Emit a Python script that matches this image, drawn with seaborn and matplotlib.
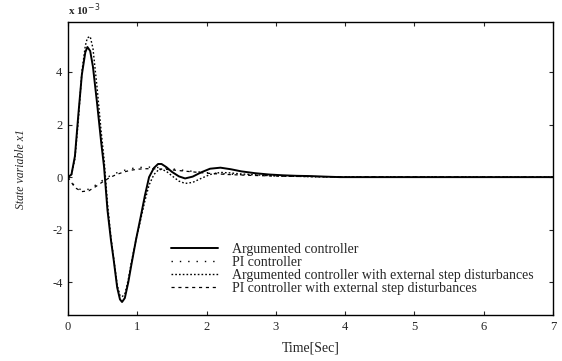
import numpy as np
import pandas as pd
import matplotlib
matplotlib.use("Agg")
import matplotlib.pyplot as plt
import seaborn as sns

# values (units of 1e-3)
t_arg = [0, 0.05, 0.1, 0.15, 0.2, 0.25, 0.28, 0.32, 0.36, 0.42, 0.48, 0.52, 0.57,
         0.62, 0.66, 0.71, 0.75, 0.78, 0.82, 0.87, 0.91, 0.98, 1.05, 1.11, 1.17,
         1.24, 1.3, 1.35, 1.42, 1.5, 1.6, 1.69, 1.8, 1.92, 2.05, 2.2, 2.35, 2.5,
         2.7, 2.9, 3.1, 3.3, 3.5, 3.7, 3.93, 7.0]
arg_ctrl = [0, 0.1, 0.8, 2.4, 3.9, 4.75, 4.95, 4.8, 4.2, 2.8, 1.3, 0.4, -1.26,
            -2.4, -3.16, -4.2, -4.65, -4.75, -4.6, -4.0, -3.4, -2.4, -1.5, -0.7, 0.0,
            0.35, 0.5, 0.5, 0.38, 0.2, 0.03, -0.05, 0.02, 0.18, 0.32, 0.36, 0.3, 0.22,
            0.15, 0.1, 0.07, 0.05, 0.04, 0.02, 0.0, 0.0]
arg_dist = [0, 0.1, 0.7, 2.2, 4.0, 5.0, 5.3, 5.35, 4.9, 3.4, 1.7, 0.7, -1.0,
            -2.3, -3.1, -4.1, -4.5, -4.55, -4.45, -3.9, -3.3, -2.4, -1.6, -0.9, -0.3,
            0.1, 0.26, 0.3, 0.22, 0.05, -0.15, -0.24, -0.2, -0.05, 0.1, 0.18, 0.16, 0.12,
            0.09, 0.06, 0.04, 0.03, 0.02, 0.01, 0.0, 0.0]

t_pi = [0, 0.1, 0.2, 0.3, 0.4, 0.5, 0.6, 0.7, 0.8, 0.9, 1.0, 1.1, 1.2, 1.4,
        1.6, 1.8, 2.0, 2.3, 2.6, 3.0, 3.5, 4.0, 7.0]
pi_ctrl = [0, -0.35, -0.5, -0.46, -0.3, -0.12, 0.04, 0.16, 0.25, 0.32, 0.36, 0.38,
           0.38, 0.35, 0.28, 0.22, 0.17, 0.12, 0.08, 0.05, 0.02, 0.01, 0.0]
pi_dist = [0, -0.4, -0.55, -0.52, -0.36, -0.18, -0.02, 0.1, 0.19, 0.26, 0.3, 0.32,
           0.32, 0.3, 0.25, 0.2, 0.15, 0.1, 0.07, 0.04, 0.02, 0.01, 0.0]

labels = ["Argumented controller",
          "PI controller",
          "Argumented controller with external step disturbances",
          "PI controller with external step disturbances"]

sns.set_style("ticks")
plt.rcParams["font.family"] = ["Liberation Serif", "DejaVu Serif"]
plt.rcParams["axes.unicode_minus"] = False

fig = plt.figure(figsize=(5.62, 3.61), dpi=100)
ax = fig.add_axes([0.121, 0.127, 0.863, 0.812])

sns.lineplot(x=t_arg, y=arg_ctrl, ax=ax, color="black", lw=1.4,
             linestyle="-", label=labels[0])
sns.lineplot(x=t_pi, y=pi_ctrl, ax=ax, color="black", lw=1.0,
             linestyle=(0, (1, 5)), label=labels[1])
sns.lineplot(x=t_arg, y=arg_dist, ax=ax, color="black", lw=1.0,
             linestyle=(0, (1.2, 1.5)), label=labels[2])
sns.lineplot(x=t_pi, y=pi_dist, ax=ax, color="black", lw=0.9,
             linestyle=(0, (2.5, 3)), label=labels[3])

ax.set_xlim(0, 7)
ax.set_ylim(-5.25, 5.9)
ax.set_xticks(range(0, 8))
ax.set_yticks([-4, -2, 0, 2, 4])
ax.tick_params(direction="in", top=True, right=True, labelsize=9, length=3,
               width=0.8, pad=4)
for s in ax.spines.values():
    s.set_linewidth(1.0)
    s.set_color("black")

ax.set_xlabel("Time[Sec]", fontsize=10, labelpad=6)
ax.set_ylabel("State variable x1", fontsize=8.5, style="italic", labelpad=18)
ax.annotate(r"x 10$^{-3}$", xy=(0, 1), xycoords="axes fraction",
            xytext=(0, 9), textcoords="offset points", fontsize=8,
            fontweight="bold", ha="left", va="center")

ax.legend(loc="lower left", bbox_to_anchor=(0.2, 0.05), frameon=False,
          fontsize=10, handlelength=3.4, handletextpad=1.0, labelspacing=0.0,
          borderaxespad=0)

fig.savefig("out.png", dpi=100)
